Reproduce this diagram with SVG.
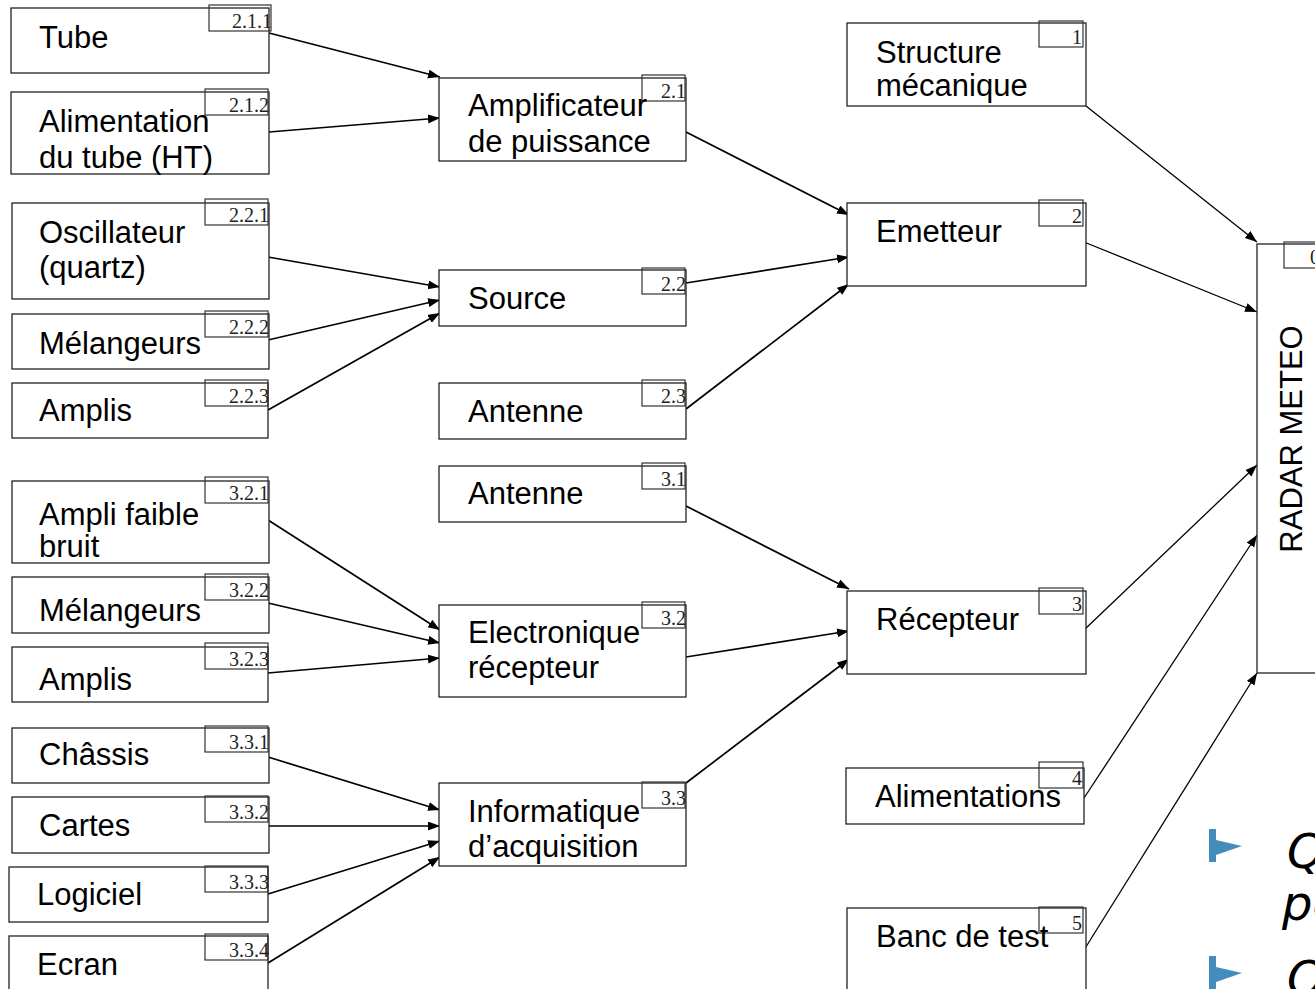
<svg xmlns="http://www.w3.org/2000/svg" width="1315" height="989" viewBox="0 0 1315 989">
<style>
.box{fill:#fff;stroke:#222;stroke-width:1.3}
.lab{fill:none;stroke:#333;stroke-width:1.2}
.t{font-family:"Liberation Sans",Arial,sans-serif;font-size:31px;fill:#000}
.n{font-family:"Liberation Serif","Times New Roman",serif;font-size:20px;fill:#222;text-anchor:end}
.c{stroke:#000;stroke-width:1.7;fill:none;marker-end:url(#ah)}
.c2{stroke:#000;stroke-width:1.3;fill:none;marker-end:url(#ah)}
.hw{font-family:"DejaVu Sans",sans-serif;font-style:italic;font-size:48px;fill:#000}
</style>
<defs>
<marker id="ah" markerUnits="userSpaceOnUse" markerWidth="14" markerHeight="10" refX="12" refY="4.5" orient="auto">
<path d="M0,0 L12,4.5 L0,9 z" fill="#000"/>
</marker>
</defs>
<rect width="1315" height="989" fill="#fff"/>

<g id="connectors">
<line class="c" x1="269" y1="33" x2="440" y2="77"/>
<line class="c" x1="269" y1="132" x2="440" y2="118"/>
<line class="c" x1="268" y1="257" x2="440" y2="287"/>
<line class="c" x1="268" y1="340" x2="440" y2="300"/>
<line class="c" x1="268" y1="410" x2="440" y2="313"/>
<line class="c" x1="268" y1="520" x2="440" y2="630"/>
<line class="c" x1="268" y1="603" x2="440" y2="643"/>
<line class="c" x1="268" y1="673" x2="440" y2="658"/>
<line class="c" x1="268" y1="757" x2="440" y2="810"/>
<line class="c" x1="268" y1="826" x2="440" y2="826"/>
<line class="c" x1="268" y1="894" x2="440" y2="841"/>
<line class="c" x1="268" y1="963" x2="440" y2="857"/>
<line class="c" x1="686" y1="132" x2="849" y2="215"/>
<line class="c" x1="686" y1="283" x2="849" y2="257"/>
<line class="c" x1="686" y1="409" x2="849" y2="284"/>
<line class="c" x1="686" y1="506" x2="849" y2="589"/>
<line class="c" x1="686" y1="657" x2="849" y2="631"/>
<line class="c" x1="686" y1="783" x2="849" y2="659"/>
<line class="c2" x1="1086" y1="106" x2="1257" y2="242"/>
<line class="c2" x1="1084" y1="242" x2="1257" y2="312"/>
<line class="c2" x1="1084" y1="630" x2="1257" y2="465"/>
<line class="c2" x1="1084" y1="798" x2="1257" y2="535"/>
<line class="c2" x1="1084" y1="950" x2="1257" y2="673"/>
</g>

<!-- left column -->
<g id="n211"><rect class="box" x="11" y="8" width="258" height="65"/><rect class="lab" x="209" y="5" width="62" height="26"/><text class="n" x="272" y="28">2.1.1</text><text class="t" x="39" y="48">Tube</text></g>
<g id="n212"><rect class="box" x="11" y="92" width="258" height="82"/><rect class="lab" x="205" y="89" width="63" height="26"/><text class="n" x="269" y="112">2.1.2</text><text class="t" x="39" y="132">Alimentation</text><text class="t" x="39" y="168">du tube (HT)</text></g>
<g id="n221"><rect class="box" x="12" y="203" width="257" height="96"/><rect class="lab" x="205" y="199" width="63" height="26"/><text class="n" x="269" y="222">2.2.1</text><text class="t" x="39" y="243">Oscillateur</text><text class="t" x="39" y="278">(quartz)</text></g>
<g id="n222"><rect class="box" x="12" y="314" width="257" height="55"/><rect class="lab" x="205" y="311" width="63" height="26"/><text class="n" x="269" y="334">2.2.2</text><text class="t" x="39" y="354">Mélangeurs</text></g>
<g id="n223"><rect class="box" x="12" y="383" width="256" height="55"/><rect class="lab" x="205" y="380" width="63" height="26"/><text class="n" x="269" y="403">2.2.3</text><text class="t" x="39" y="421">Amplis</text></g>
<g id="n321"><rect class="box" x="12" y="481" width="257" height="82"/><rect class="lab" x="205" y="477" width="63" height="26"/><text class="n" x="269" y="500">3.2.1</text><text class="t" x="39" y="525">Ampli faible</text><text class="t" x="39" y="557">bruit</text></g>
<g id="n322"><rect class="box" x="12" y="577" width="257" height="56"/><rect class="lab" x="205" y="574" width="63" height="26"/><text class="n" x="269" y="597">3.2.2</text><text class="t" x="39" y="621">Mélangeurs</text></g>
<g id="n323"><rect class="box" x="12" y="647" width="256" height="55"/><rect class="lab" x="205" y="643" width="63" height="26"/><text class="n" x="269" y="666">3.2.3</text><text class="t" x="39" y="690">Amplis</text></g>
<g id="n331"><rect class="box" x="12" y="728" width="257" height="55"/><rect class="lab" x="205" y="726" width="63" height="26"/><text class="n" x="269" y="749">3.3.1</text><text class="t" x="39" y="765">Châssis</text></g>
<g id="n332"><rect class="box" x="12" y="797" width="257" height="56"/><rect class="lab" x="205" y="796" width="63" height="26"/><text class="n" x="269" y="819">3.3.2</text><text class="t" x="39" y="836">Cartes</text></g>
<g id="n333"><rect class="box" x="9" y="867" width="259" height="55"/><rect class="lab" x="205" y="866" width="63" height="26"/><text class="n" x="269" y="889">3.3.3</text><text class="t" x="37" y="905">Logiciel</text></g>
<g id="n334"><rect class="box" x="9" y="936" width="259" height="70"/><rect class="lab" x="205" y="934" width="63" height="26"/><text class="n" x="269" y="957">3.3.4</text><text class="t" x="37" y="975">Ecran</text></g>

<!-- middle column -->
<g id="n21"><rect class="box" x="439" y="78" width="247" height="83"/><rect class="lab" x="642" y="75" width="43" height="26"/><text class="n" x="686" y="98">2.1</text><text class="t" x="468" y="116">Amplificateur</text><text class="t" x="468" y="152">de puissance</text></g>
<g id="n22"><rect class="box" x="439" y="270" width="247" height="56"/><rect class="lab" x="642" y="268" width="43" height="26"/><text class="n" x="686" y="291">2.2</text><text class="t" x="468" y="309">Source</text></g>
<g id="n23"><rect class="box" x="439" y="383" width="247" height="56"/><rect class="lab" x="642" y="380" width="43" height="26"/><text class="n" x="686" y="403">2.3</text><text class="t" x="468" y="422">Antenne</text></g>
<g id="n31"><rect class="box" x="439" y="466" width="247" height="56"/><rect class="lab" x="642" y="463" width="43" height="26"/><text class="n" x="686" y="486">3.1</text><text class="t" x="468" y="504">Antenne</text></g>
<g id="n32"><rect class="box" x="439" y="605" width="247" height="92"/><rect class="lab" x="642" y="602" width="43" height="26"/><text class="n" x="686" y="625">3.2</text><text class="t" x="468" y="643">Electronique</text><text class="t" x="468" y="678">récepteur</text></g>
<g id="n33"><rect class="box" x="439" y="783" width="247" height="83"/><rect class="lab" x="642" y="782" width="43" height="26"/><text class="n" x="686" y="805">3.3</text><text class="t" x="468" y="822">Informatique</text><text class="t" x="468" y="857">d’acquisition</text></g>

<!-- right column -->
<g id="n1"><rect class="box" x="847" y="23" width="239" height="83"/><rect class="lab" x="1039" y="21" width="44" height="26"/><text class="n" x="1082" y="44">1</text><text class="t" x="876" y="63">Structure</text><text class="t" x="876" y="96">mécanique</text></g>
<g id="n2"><rect class="box" x="847" y="203" width="239" height="83"/><rect class="lab" x="1039" y="200" width="44" height="26"/><text class="n" x="1082" y="223">2</text><text class="t" x="876" y="242">Emetteur</text></g>
<g id="n3"><rect class="box" x="847" y="591" width="239" height="83"/><rect class="lab" x="1039" y="588" width="44" height="26"/><text class="n" x="1082" y="611">3</text><text class="t" x="876" y="630">Récepteur</text></g>
<g id="n4"><rect class="box" x="846" y="768" width="238" height="56"/><rect class="lab" x="1039" y="762" width="44" height="26"/><text class="n" x="1082" y="785">4</text><text class="t" x="875" y="807">Alimentations</text></g>
<g id="n5"><rect class="box" x="847" y="908" width="239" height="100"/><rect class="lab" x="1039" y="907" width="44" height="26"/><text class="n" x="1082" y="930">5</text><text class="t" x="876" y="947">Banc de test</text></g>

<!-- root -->
<g id="n0"><rect class="box" x="1257" y="244" width="80" height="429"/><rect class="lab" x="1284" y="242" width="50" height="26"/><text class="n" x="1320" y="264">0</text><text class="t" transform="translate(1302,439) rotate(-90)" text-anchor="middle">RADAR METEO</text></g>

<!-- partial bullet text at bottom right -->
<g id="notes">
<path d="M1209,829 L1216,829 L1216,840 L1242,846 L1216,855 L1216,862 L1209,862 Z" fill="#2f7fb5" opacity="0.9"/>
<path d="M1209,956 L1216,956 L1216,967 L1242,973 L1216,982 L1216,989 L1209,989 Z" fill="#2f7fb5" opacity="0.9"/>
<text class="hw" x="1287" y="868">Q</text>
<text class="hw" x="1282" y="920">po</text>
<text class="hw" x="1287" y="995">Q</text>
</g>
</svg>
